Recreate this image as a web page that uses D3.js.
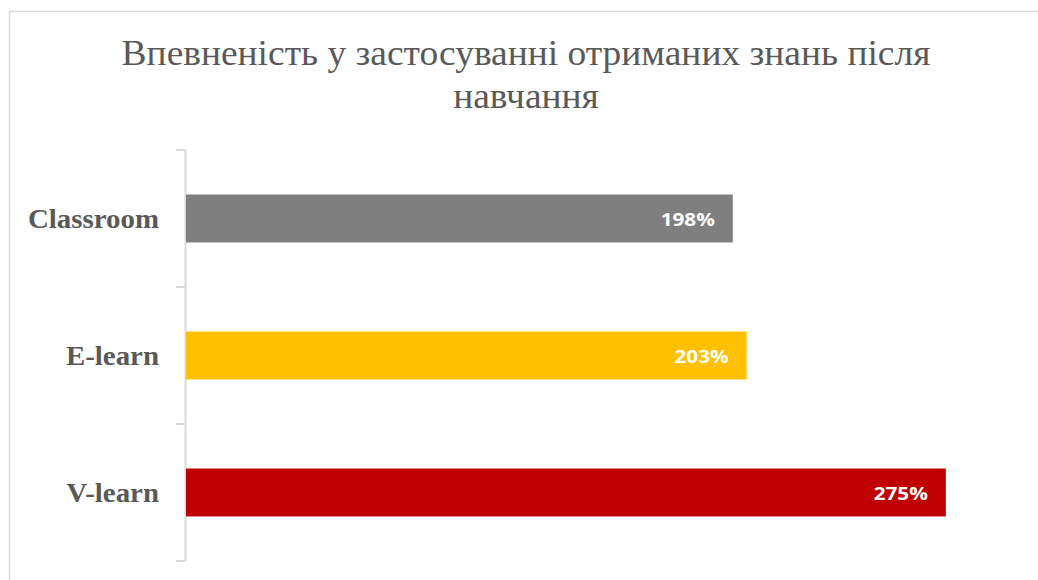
<!DOCTYPE html>
<html>
<head>
<meta charset="utf-8">
<script src="https://cdn.jsdelivr.net/npm/d3@7"></script>
<style>
  html, body { margin: 0; padding: 0; background: #fff; }
  svg { display: block; }
</style>
</head>
<body>
<svg id="chart" width="1038" height="580"></svg>
<script>
// Chart data
const categories = ["Classroom", "E-learn", "V-learn"];
const values = [1.98, 2.03, 2.75];
const valueLabels = ["198%", "203%", "275%"];
const barColors = ["#7f7f7f", "#ffc000", "#c00000"];
const titleLines = ["Впевненість у застосуванні отриманих знань після", "навчання"];

const svg = d3.select("#chart");
const W = 1038, H = 580;
const serif = "'Liberation Serif', 'Times New Roman', serif";
const stretch = 1.07; // slightly wide text rendering

// Chart area frame (extends past the right and bottom edges)
svg.append("path")
  .attr("d", `M9.5,${H + 2} V11.5 H${W + 2}`)
  .attr("fill", "none")
  .attr("stroke", "#d9d9d9")
  .attr("stroke-width", 1.5);

// Title
svg.append("g")
  .selectAll("text")
  .data(titleLines)
  .join("text")
  .attr("transform", (d, i) => `translate(526,${65 + i * 43}) scale(${stretch},1)`)
  .attr("text-anchor", "middle")
  .attr("font-family", serif)
  .attr("font-size", 35)
  .attr("fill", "#595959")
  .text(d => d);

// Scales
const x = d3.scaleLinear().domain([0, 3]).range([185, 1015]);
const y = d3.scaleBand()
  .domain(categories)
  .range([150, 561])
  .paddingInner(0.65)
  .paddingOuter(0.325);

// Category axis
const axis = d3.axisLeft(y).tickSize(0).tickFormat(d => d).tickPadding(25);
const axisG = svg.append("g")
  .attr("transform", "translate(185,0)")
  .call(axis);
axisG.select(".domain")
  .attr("d", `M0.5,150 V561`)
  .attr("stroke", "#d9d9d9")
  .attr("stroke-width", 2);
axisG.selectAll(".tick text")
  .attr("font-family", serif)
  .attr("font-weight", "bold")
  .attr("font-size", 27)
  .attr("fill", "#595959")
  .attr("dy", "0.35em")
  .attr("x", 0)
  .attr("transform", `translate(-26,0) scale(${stretch},1)`);

// Tick marks at category boundaries
const step = y.step();
const boundaries = d3.range(categories.length + 1).map(i => 150 + i * step);
svg.append("g")
  .selectAll("line")
  .data(boundaries)
  .join("line")
  .attr("x1", 176)
  .attr("x2", 185)
  .attr("y1", d => d)
  .attr("y2", d => d)
  .attr("stroke", "#d9d9d9")
  .attr("stroke-width", 2);

// Bars
svg.append("g")
  .selectAll("rect")
  .data(categories)
  .join("rect")
  .attr("x", x(0) + 1)
  .attr("y", d => y(d))
  .attr("width", (d, i) => x(values[i]) - x(0) - 1)
  .attr("height", y.bandwidth())
  .attr("fill", (d, i) => barColors[i]);

// Value labels inside bar ends
svg.append("g")
  .selectAll("text")
  .data(categories)
  .join("text")
  .attr("transform", (d, i) => `translate(${x(values[i]) - 18},${y(d) + y.bandwidth() / 2 + 1}) scale(1.12,1)`)
  .attr("dy", "0.35em")
  .attr("text-anchor", "end")
  .attr("font-family", "'Open Sans', 'Noto Sans', sans-serif")
  .attr("font-weight", "bold")
  .attr("font-size", 18.5)
  .attr("fill", "#ffffff")
  .text((d, i) => valueLabels[i]);
</script>
</body>
</html>
